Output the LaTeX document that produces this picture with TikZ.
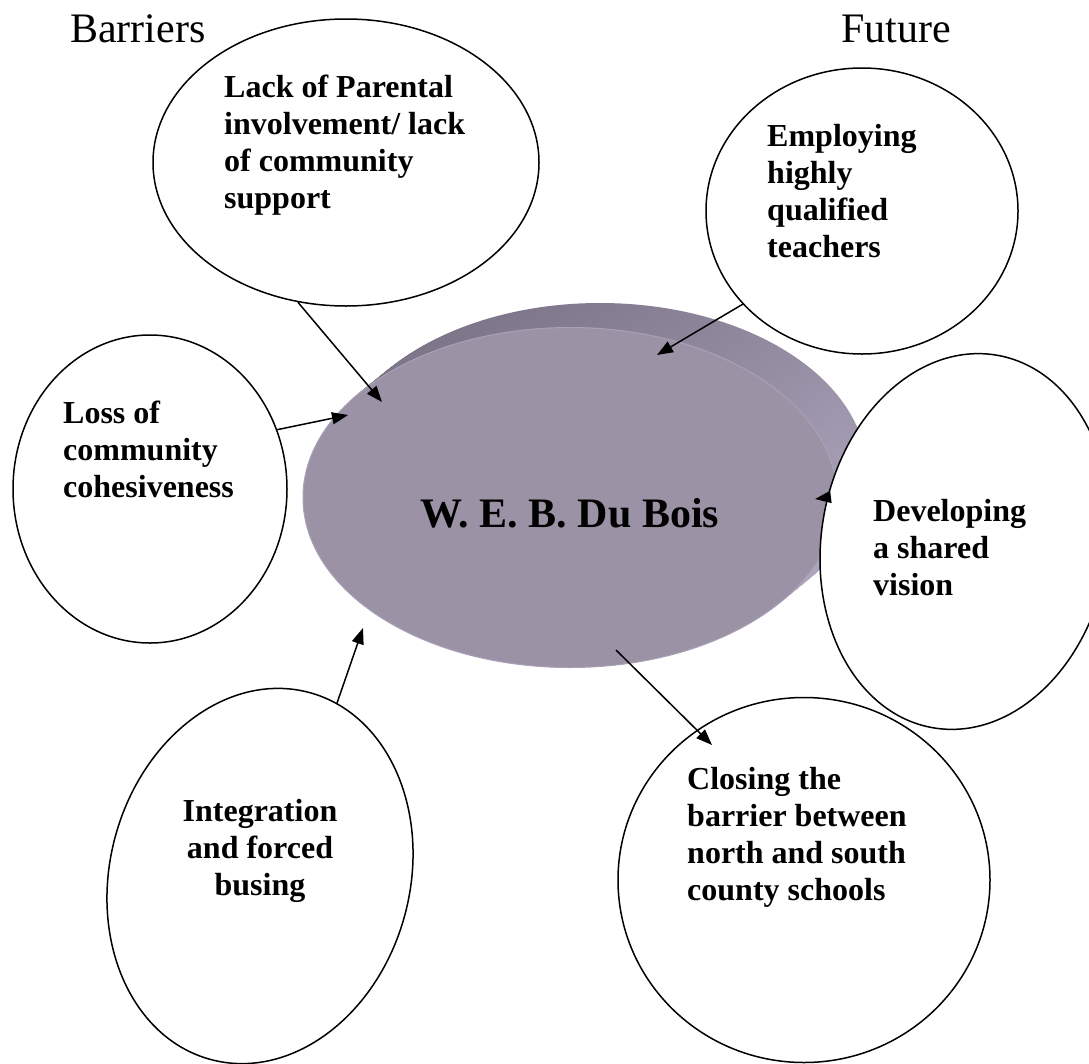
\documentclass[tikz,border=0pt]{standalone}
\usepackage{fontspec}
\setmainfont{Liberation Serif}
\usetikzlibrary{shapes.geometric,arrows.meta}
\definecolor{face}{HTML}{9B92A6}
\definecolor{rim}{HTML}{A9A1B5}
\definecolor{sidedark}{HTML}{7A7386}
\definecolor{sidelight}{HTML}{B3ABC3}
\begin{document}
\begin{tikzpicture}[x=1pt,y=-1pt,
  bubble/.style={ellipse, draw=black, line width=1.5pt, fill=white, inner sep=0pt},
  btext/.style={font=\fontsize{32}{36.7}\selectfont\bfseries, inner sep=0pt, align=left, anchor=base west},
  title/.style={font=\fontsize{42}{48}\selectfont, inner sep=0pt, anchor=base west},
  arr/.style={line width=1.5pt, -{Triangle[length=16pt,width=12pt]}}]
\useasboundingbox (0,0) rectangle (1089,1063);
% central disc: extruded side
\foreach \i in {0,...,30}{
  \path[path picture={\shade[top color=sidedark, bottom color=sidelight, shading angle=30] (290,290) rectangle (880,690);}]
    ({600-30*\i/30},{473+24.5*\i/30}) ellipse [x radius=267, y radius=170];
}
\node[ellipse, fill=face, draw=rim, line width=1pt, inner sep=0pt,
  minimum width=534pt, minimum height=340pt] (cen) at (570,497.5) {};
\node[font=\fontsize{42}{48}\selectfont\bfseries, inner sep=0pt, anchor=base] (centext) at (570,527) {W. E. B. Du Bois};
% bubbles
\node[bubble, minimum width=386pt, minimum height=287pt] (lack) at (346,162.5) {};
\node[bubble, minimum width=274pt, minimum height=308pt] (loss) at (150,489) {};
\node[bubble, minimum width=312pt, minimum height=286pt] (emp) at (862,211) {};
\node[bubble, minimum width=300pt, minimum height=380pt, rotate=-15] (integ) at (260,876) {};
\node[bubble, minimum width=372pt, minimum height=365pt] (clos) at (804,880) {};
\node[bubble, minimum width=287pt, minimum height=378pt, rotate=-9.7] (dev) at (965,541.5) {};
% titles
\node[title] (barriers) at (70,42) {Barriers};
\node[title] (future) at (841,42) {Future};
% bubble texts (anchor = baseline of last line)
\node[btext] (lacktext) at (224,208) {Lack of Parental\\involvement/ lack\\of community\\support};
\node[btext] (losstext) at (63,497) {Loss of\\community\\cohesiveness};
\node[btext] (emptext) at (767,257) {Employing\\highly\\qualified\\teachers};
\node[btext] (devtext) at (873,595) {Developing\\a shared\\vision};
\node[btext] (clostext) at (687,900) {Closing the\\barrier between\\north and south\\county schools};
\node[btext, align=center, anchor=base] (integtext) at (260,895) {Integration\\and forced\\busing};
% arrows
\coordinate (t1) at (382,402);
\coordinate (t2) at (348,415);
\coordinate (t3) at (657,355);
\coordinate (t4) at (815,499);
\coordinate (t5) at (363,628);
\coordinate (s6) at (616,650);
\coordinate (t6) at (712,745);
\draw[arr] (lack.251) -- (t1);
\draw[arr] (loss.25) -- (t2);
\draw[arr] (emp.218) -- (t3);
\draw[arr] (dev.172) -- (t4);
\draw[arr] (integ.81) -- (t5);
\draw[arr] (s6) -- (t6);
\end{tikzpicture}
\end{document}
